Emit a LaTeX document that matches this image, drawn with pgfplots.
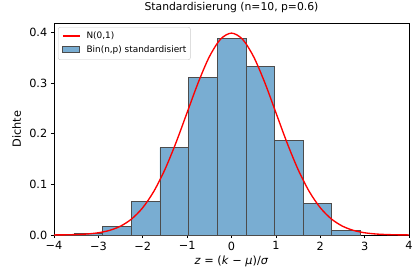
\documentclass[border=0pt]{standalone}
\usepackage{pgfplots}
\pgfplotsset{compat=1.18}
\usepackage{fontspec}
\setmainfont{DejaVu Sans}
\definecolor{barfill}{RGB}{121,173,210}
\begin{document}
\begin{tikzpicture}[x=1pt,y=1pt]
\path[use as bounding box] (-54,-34) rectangle (359,235);
\begin{axis}[
  at={(0,0)}, anchor=south west,
  scale only axis, width=355pt, height=212pt,
  xmin=-4, xmax=4, ymin=0, ymax=0.4189,
  xtick={-4,-3,-2,-1,0,1,2,3,4},
  xticklabels={−4,−3,−2,−1,0,1,2,3,4},
  ytick={0,0.1,0.2,0.3,0.4},
  yticklabels={0.0,0.1,0.2,0.3,0.4},
  tick align=outside, tick pos=left,
  major tick length=3.2pt,
  every tick/.style={black, line width=0.7pt},
  axis line style={line width=0.7pt},
  ticklabel style={font=\fontsize{11.3}{13}\selectfont},
  title={Standardisierung (n=10, p=0.6)},
  title style={font=\fontsize{10.8}{13}\selectfont, at={(rel axis cs:0.5,1)}, anchor=base, yshift=7pt, inner sep=0pt},
  xlabel={\textit{z} = (\textit{k} − \textit{μ})/\textit{σ}},
  xlabel style={font=\fontsize{11.3}{13}\selectfont, at={(rel axis cs:0.5,0)}, anchor=base, yshift=-29pt, inner sep=0pt},
  ylabel={Dichte},
  ylabel style={font=\fontsize{11.3}{13}\selectfont, at={(rel axis cs:0,0.5)}, anchor=base, yshift=33pt, inner sep=0pt},
]
\addplot[ybar interval, fill=barfill, draw=black!70, line width=0.6pt]
  coordinates {
  (-4.1957,0.000163) (-3.5502,0.002437) (-2.9047,0.016448) (-2.2592,0.065790)
  (-1.6137,0.172700) (-0.9682,0.310860) (-0.3227,0.388570) (0.3227,0.333060)
  (0.9682,0.187350) (1.6137,0.062450) (2.2592,0.009368) (2.9047,0)
  };
\addplot[red, line width=1.35pt, smooth, mark=none]
  coordinates {
  (-4,0.000134) (-3.75,0.000353) (-3.5,0.000873) (-3.25,0.002029) (-3,0.004432)
  (-2.75,0.009094) (-2.5,0.017528) (-2.25,0.031740) (-2,0.053991) (-1.75,0.086277)
  (-1.5,0.129518) (-1.25,0.182649) (-1,0.241971) (-0.75,0.301137) (-0.5,0.352065)
  (-0.25,0.386668) (0,0.398942) (0.25,0.386668) (0.5,0.352065) (0.75,0.301137)
  (1,0.241971) (1.25,0.182649) (1.5,0.129518) (1.75,0.086277) (2,0.053991)
  (2.25,0.031740) (2.5,0.017528) (2.75,0.009094) (3,0.004432) (3.25,0.002029)
  (3.5,0.000873) (3.75,0.000353) (4,0.000134)
  };
\node[draw=black!20, fill=white, rounded corners=2pt, anchor=north west, inner sep=4pt,
  font=\fontsize{8.9}{11}\selectfont] at (rel axis cs:0.0113,0.981) {%
  \begin{tabular}{@{}l@{\hspace{6pt}}l@{}}
  \tikz[baseline=-3pt]\draw[red, line width=1.35pt] (0pt,0pt) -- (17pt,0pt); & N(0,1)\\[2.5pt]
  \tikz[baseline=-3pt]\draw[sharp corners, fill=barfill, draw=black!70, line width=0.6pt] (0pt,-3pt) rectangle (17pt,3pt); & Bin(n,p) standardisiert
  \end{tabular}};
\end{axis}
\end{tikzpicture}
\end{document}
